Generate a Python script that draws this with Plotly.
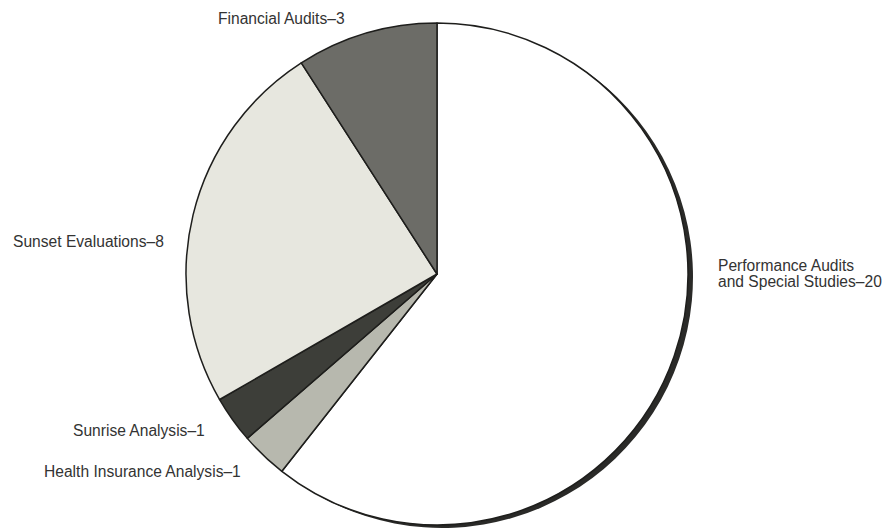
import plotly.graph_objects as go

categories = ["Performance Audits and Special Studies", "Health Insurance Analysis",
              "Sunrise Analysis", "Sunset Evaluations", "Financial Audits"]
values = [20, 1, 1, 8, 3]
label_texts = ["Performance Audits<br>and Special Studies–20", "Health Insurance Analysis–1",
               "Sunrise Analysis–1", "Sunset Evaluations–8", "Financial Audits–3"]
colors = ["#ffffff", "#b7b8ae", "#3d3e39", "#e7e7df", "#6c6c67"]

W, H = 887, 531
cx, cy, r = 437, 274, 251

def dom(cxp, cyp):
    return dict(x=[(cxp - r) / W, (cxp + r) / W],
                y=[(H - cyp - r) / H, (H - cyp + r) / H])

fig = go.Figure()
# shadow
fig.add_trace(go.Pie(labels=categories, values=values, sort=False, direction="clockwise",
                     marker=dict(colors=["#2a2a28"] * len(values), line=dict(width=0)),
                     textinfo="none", hoverinfo="skip", showlegend=False,
                     domain=dom(cx + 5, cy + 3)))
fig.add_trace(go.Pie(labels=categories, values=values, sort=False, direction="clockwise",
                     marker=dict(colors=colors, line=dict(color="#1e1e1c", width=1.5)),
                     textinfo="none", showlegend=False, domain=dom(cx, cy)))

label_pos = [(716, [265, 281], "left"), (243, [471], "right"), (207, [430], "right"),
             (166, [241], "right"), (347, [18], "right")]
for t, (x, ys, a) in zip(label_texts, label_pos):
    for line, y in zip(t.split("<br>"), ys):
        fig.add_annotation(x=x / W, y=1 - y / H, xref="paper", yref="paper",
                           text=line, showarrow=False, xanchor=a, yanchor="middle",
                           align="left",
                           font=dict(family="Liberation Sans, Arial", size=15.6,
                                     color="#333333"))

fig.update_layout(width=W, height=H, margin=dict(l=0, r=0, t=0, b=0),
                  paper_bgcolor="white", plot_bgcolor="white")
fig.write_html("out.html", config={"displayModeBar": False},
               post_script="document.body.style.margin='0';document.body.style.overflow='hidden';")
